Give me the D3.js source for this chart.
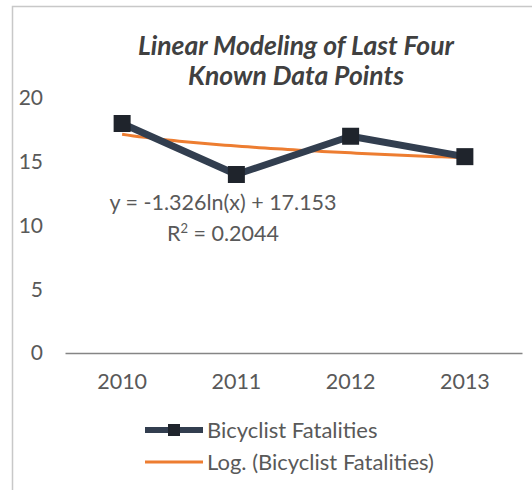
<!DOCTYPE html>
<html><head><meta charset="utf-8">
<script src="https://cdn.jsdelivr.net/npm/d3@7"></script>
<style>
body{margin:0;background:#fff}
svg{display:block}
text{font-family:Lato,"Open Sans",sans-serif}
</style>
</head><body><svg id="chart" width="532" height="490"></svg>
<script>
// Bicyclist fatalities, 2010-2013, with a logarithmic trendline
const years = ["2010", "2011", "2012", "2013"];
const fatalities = [18, 14, 17, 15.4];
const yTicks = [0, 5, 10, 15, 20];
const trendSlope = -1.326;
const trendIntercept = 17.153;
const rSquaredLabel = "0.2044";
const seriesName = "Bicyclist Fatalities";
const trendName = "Log. (Bicyclist Fatalities)";
const titleLines = ["Linear Modeling of Last Four", "Known Data Points"];

const svg = d3.select("#chart");
const lineColor = "#323e4f", markerColor = "#1f242c", trendColor = "#ed7d31", textColor = "#595959";

// chart frame (clipped on the right and bottom edges)
svg.append("rect").attr("x", 12.5).attr("y", 6.5).attr("width", 560).attr("height", 520)
  .attr("fill", "#fff").attr("stroke", "#c8c8c8").attr("stroke-width", 1.5);

const x = d3.scaleBand().domain(years).range([65, 522]).paddingInner(0).paddingOuter(0);
const y = d3.scaleLinear().domain([0, 20]).range([353, 98]);
const cx = d => x(d) + x.bandwidth() / 2;

// title
svg.append("text").attr("text-anchor", "middle").attr("fill", "#404040")
  .attr("font-weight", "bold").attr("font-style", "italic").attr("font-size", 26.5)
  .selectAll("tspan").data(titleLines).join("tspan")
  .attr("x", 296).attr("y", (d, i) => 55 + i * 30).text(d => d);

// y tick labels
svg.append("g").selectAll("text").data(yTicks).join("text")
  .attr("x", 43).attr("y", d => y(d)).attr("dy", "0.35em").attr("text-anchor", "end")
  .attr("fill", textColor).attr("font-size", 21).text(d => d);

// x axis
const xAxis = svg.append("g").attr("transform", "translate(0,353)")
  .call(d3.axisBottom(x).tickSize(0).tickPadding(21));
xAxis.select(".domain").attr("stroke", "#858585").attr("stroke-width", 1.5);
xAxis.selectAll("text").attr("fill", textColor).attr("font-size", 21.5)
  .attr("font-family", "Lato, 'Open Sans', sans-serif");

// logarithmic trendline y = a ln(x) + b over category positions 1..4
const xi = d3.scaleLinear().domain([1, years.length]).range([cx(years[0]), cx(years[years.length - 1])]);
const trendPts = d3.range(1, years.length + 0.0001, 0.05);
svg.append("path").datum(trendPts)
  .attr("fill", "none").attr("stroke", trendColor).attr("stroke-width", 3)
  .attr("d", d3.line().x(t => xi(t)).y(t => y(trendSlope * Math.log(t) + trendIntercept)));

// data series
svg.append("path").datum(fatalities)
  .attr("fill", "none").attr("stroke", lineColor).attr("stroke-width", 7).attr("stroke-linejoin", "round")
  .attr("d", d3.line().x((d, i) => cx(years[i])).y(d => y(d)));
svg.append("g").selectAll("rect").data(fatalities).join("rect")
  .attr("x", (d, i) => cx(years[i]) - 8.5).attr("y", d => y(d) - 8.5)
  .attr("width", 17).attr("height", 17).attr("fill", markerColor);

// trendline equation
const eq = svg.append("text").attr("text-anchor", "middle").attr("fill", textColor).attr("font-size", 21.5);
eq.append("tspan").attr("x", 223).attr("y", 210)
  .text(`y = ${trendSlope.toFixed(3)}ln(x) + ${trendIntercept.toFixed(3)}`);
const r2 = eq.append("tspan").attr("x", 223).attr("y", 241);
r2.append("tspan").text("R");
r2.append("tspan").attr("font-size", 13).attr("dy", -8).text("2");
r2.append("tspan").attr("dy", 8).text(" = " + rSquaredLabel);

// legend
const legend = svg.append("g");
legend.append("line").attr("x1", 145).attr("x2", 203).attr("y1", 430).attr("y2", 430)
  .attr("stroke", lineColor).attr("stroke-width", 6);
legend.append("rect").attr("x", 168).attr("y", 424).attr("width", 12).attr("height", 12).attr("fill", markerColor);
legend.append("text").attr("x", 207).attr("y", 430).attr("dy", "0.35em")
  .attr("fill", textColor).attr("font-size", 22).text(seriesName);
legend.append("line").attr("x1", 145).attr("x2", 203).attr("y1", 462).attr("y2", 462)
  .attr("stroke", trendColor).attr("stroke-width", 3);
legend.append("text").attr("x", 207).attr("y", 462).attr("dy", "0.35em")
  .attr("fill", textColor).attr("font-size", 22).text(trendName);
</script>
</body></html>
